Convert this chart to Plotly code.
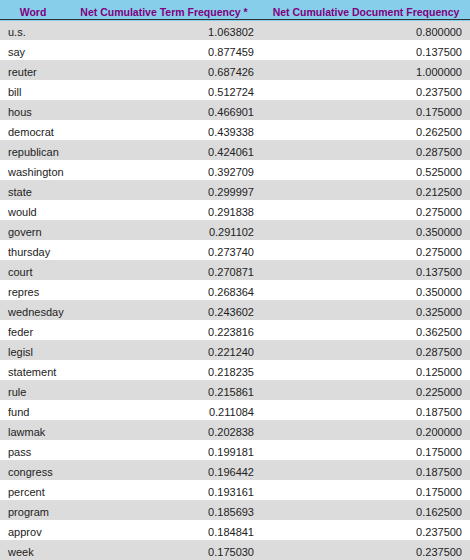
import plotly.graph_objects as go

words = ["u.s.", "say", "reuter", "bill", "hous", "democrat", "republican",
         "washington", "state", "would", "govern", "thursday", "court",
         "repres", "wednesday", "feder", "legisl", "statement", "rule",
         "fund", "lawmak", "pass", "congress", "percent", "program",
         "approv", "week"]

term_freq = [1.063802, 0.877459, 0.687426, 0.512724, 0.466901, 0.439338,
             0.424061, 0.392709, 0.299997, 0.291838, 0.291102, 0.273740,
             0.270871, 0.268364, 0.243602, 0.223816, 0.221240, 0.218235,
             0.215861, 0.211084, 0.202838, 0.199181, 0.196442, 0.193161,
             0.185693, 0.184841, 0.175030]

doc_freq = [0.800000, 0.137500, 1.000000, 0.237500, 0.175000, 0.262500,
            0.287500, 0.525000, 0.212500, 0.275000, 0.350000, 0.275000,
            0.137500, 0.350000, 0.325000, 0.362500, 0.287500, 0.125000,
            0.225000, 0.187500, 0.200000, 0.175000, 0.187500, 0.175000,
            0.162500, 0.237500, 0.237500]

headers = ["Word", "Net Cumulative Term Frequency *", "Net Cumulative Document Frequency"]

# alternate row shading, grey first
row_colors = ["#dcdcdc" if i % 2 == 0 else "#ffffff" for i in range(len(words))]

fig = go.Figure()

fig.add_trace(go.Table(
    columnwidth=[66, 196, 208],
    header=dict(
        values=headers,
        fill_color="#87ceeb",
        line_color="#87ceeb",
        align=["center", "center", "center"],
        # no <b> tags: markup lets plotly grow the header row
        font=dict(family="Liberation Sans", size=10.5, color="#800080", weight="bold"),
        height=20,
    ),
    cells=dict(
        values=[words,
                ["%.6f" % v for v in term_freq],
                ["%.6f" % v for v in doc_freq]],
        fill_color=[row_colors] * 3,
        line_color=[row_colors] * 3,
        align=["left", "right", "right"],
        font=dict(family="Liberation Sans", size=11, color="#222222"),
        height=20,
    ),
))

# dark rule under the header
fig.add_shape(type="line", xref="paper", yref="paper",
              x0=0, x1=1, y0=1 - 19.5 / 560, y1=1 - 19.5 / 560,
              line=dict(color="#333333", width=1), layer="above")

fig.update_layout(
    width=470,
    height=560,
    margin=dict(l=0, r=0, t=0, b=0),
    paper_bgcolor="white",
)

# drop the browser's default body margin so the table sits at the corner
fig.write_html("out.html", config={"displayModeBar": False},
               post_script="document.body.style.margin='0';")
